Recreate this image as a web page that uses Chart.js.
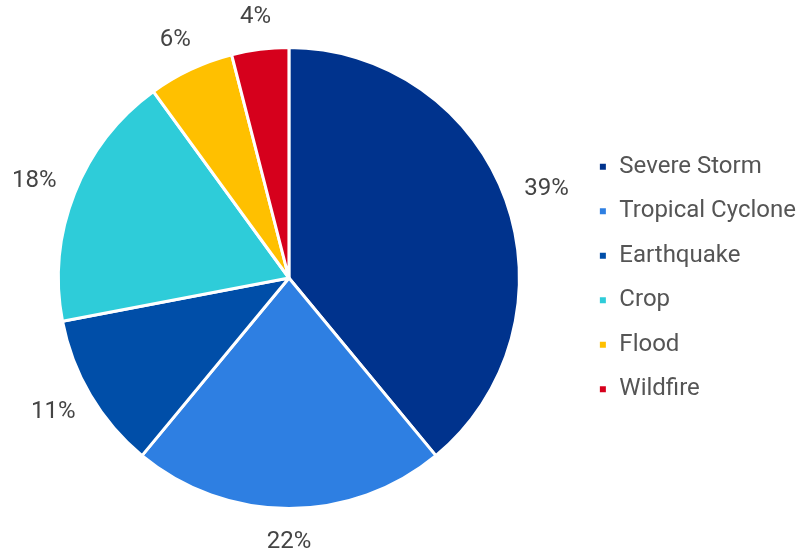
<!DOCTYPE html>
<html lang="en">
<head>
    <meta charset="UTF-8">
    <title>Losses by peril</title>
    <script src="https://cdn.jsdelivr.net/npm/chart.js"></script>
    <style>
        html, body { margin: 0; padding: 0; background: #fff; }
        #wrap { width: 799px; height: 550px; }
    </style>
</head>
<body>
    <div id="wrap"><canvas id="perilChart" width="799" height="550"></canvas></div>

    <script>
        const perils = ['Severe Storm', 'Tropical Cyclone', 'Earthquake', 'Crop', 'Flood', 'Wildfire'];
        const shares = [39, 22, 11, 18, 6, 4];
        const sliceColors = ['#00338D', '#2E7FE2', '#004EA8', '#2ECCD9', '#FFC000', '#D6001C'];

        // percent labels sitting just outside each slice
        const outsideLabels = {
            id: 'outsideLabels',
            afterDatasetsDraw(chart) {
                const ctx = chart.ctx;
                const meta = chart.getDatasetMeta(0);
                ctx.save();
                ctx.font = '24px Roboto';
                ctx.fillStyle = '#444444';
                ctx.textAlign = 'center';
                ctx.textBaseline = 'middle';
                meta.data.forEach((arc, i) => {
                    const p = arc.getProps(['x', 'y', 'startAngle', 'endAngle', 'outerRadius'], true);
                    const mid = (p.startAngle + p.endAngle) / 2;
                    const dx = Math.cos(mid), dy = Math.sin(mid);
                    const text = shares[i] + '%';
                    const halfW = ctx.measureText(text).width / 2;
                    const halfH = 12;
                    const r = p.outerRadius + 21;
                    ctx.fillText(text, p.x + dx * r + dx * halfW, p.y + dy * r + dy * halfH);
                });
                ctx.restore();
            }
        };

        new Chart(document.getElementById('perilChart'), {
            type: 'pie',
            data: {
                labels: perils,
                datasets: [{
                    data: shares,
                    backgroundColor: sliceColors,
                    borderColor: '#ffffff',
                    borderWidth: 3
                }]
            },
            options: {
                responsive: false,
                animation: false,
                layout: { padding: { top: 46, bottom: 40, left: 0, right: -7 } },
                plugins: {
                    tooltip: { enabled: false },
                    legend: {
                        position: 'right',
                        labels: {
                            font: { family: 'Roboto', size: 24 },
                            color: '#555555',
                            boxWidth: 9,
                            boxHeight: 9,
                            padding: 20.5
                        }
                    }
                }
            },
            plugins: [outsideLabels]
        });
    </script>
</body>
</html>
